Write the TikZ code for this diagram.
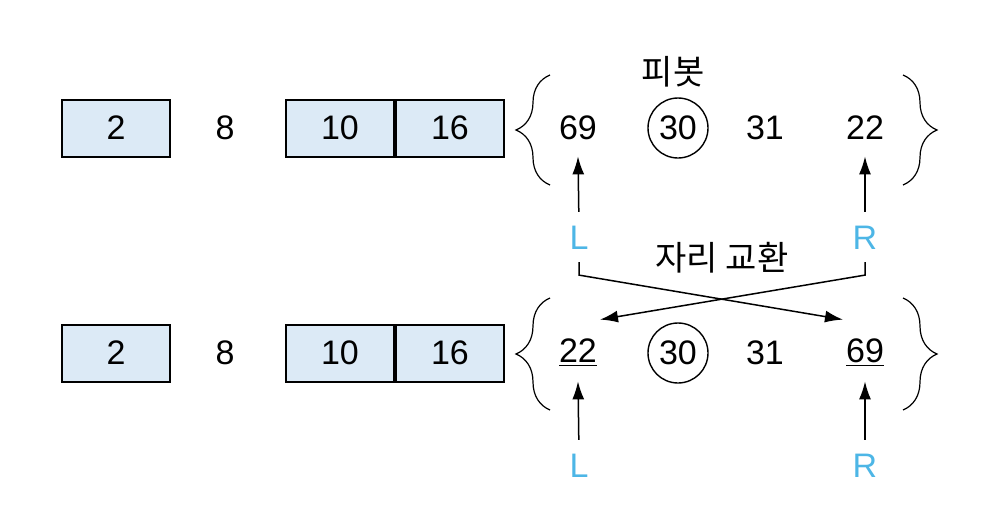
\documentclass[tikz,border=0pt]{standalone}
\usepackage{fontspec}
\setmainfont{Liberation Sans}
\newfontfamily\kr{Noto Sans CJK KR}
\usetikzlibrary{arrows.meta,positioning,decorations.pathreplacing}
\definecolor{cellblue}{HTML}{DCEAF6}
\definecolor{ptrblue}{HTML}{4DB6E6}
\tikzset{
  cell/.style={draw,line width=1pt,fill=cellblue,minimum width=54pt,minimum height=28.5pt,inner sep=0pt},
  val/.style={minimum height=28pt,inner sep=0pt},
  piv/.style={draw,circle,line width=.7pt,minimum size=30pt,inner sep=0pt},
  ptr/.style={text=ptrblue,inner sep=0pt},
  up/.style={-{Latex[length=9pt,width=6pt]},line width=.75pt,shorten <=7pt},
  swap/.style={-{Latex[length=9pt,width=6pt]},line width=.75pt,shorten <=6pt},
  curly/.style={decorate,decoration={brace,amplitude=17pt},line width=.6pt}
}
\begin{document}
\begin{tikzpicture}[x=.5pt,y=-.5pt,font=\fontsize{17}{20}\selectfont]
  \useasboundingbox (0,0) rectangle (981,521);
  % first row
  \node[cell] (a2) at (116,128) {2};
  \node (a8) at (225,128) {8};
  \node[cell] (a10) at (340,128) {10};
  \node[cell,right=0pt of a10] (a16) {16};
  \draw[curly] (550,185) -- (550,75);
  \draw[curly] (903,75) -- (903,185);
  \node[val] (t69) at (578,128) {69};
  \node[piv] (t30) at (678,128) {30};
  \node[val] (t31) at (765,128) {31};
  \node[val] (t22) at (865,128) {22};
  \node (tpiv) at (673,72) {\kr 피봇};
  \node[ptr] (tL) at (579,238) {L};
  \node[ptr] (tR) at (865,238) {R};
  \draw[up] (tL.north) -- (t69.south);
  \draw[up] (tR.north) -- (t22.south);
  % second row
  \node[cell] (b2) at (116,353) {2};
  \node (b8) at (225,353) {8};
  \node[cell] (b10) at (340,353) {10};
  \node[cell,right=0pt of b10] (b16) {16};
  \draw[curly] (550,410) -- (550,298);
  \draw[curly] (903,298) -- (903,410);
  \node[val] (b22) at (578,353) {\underline{22}};
  \node[piv] (b30) at (678,353) {30};
  \node[val] (b31) at (765,353) {31};
  \node[val] (b69) at (865,353) {\underline{69}};
  \node[ptr] (bL) at (579,466) {L};
  \node[ptr] (bR) at (865,466) {R};
  \draw[up] (bL.north) -- (b22.south);
  \draw[up] (bR.north) -- (b69.south);
  % swap
  \node (swp) at (722,258) {\kr 자리 교환};
  \draw[swap] (tL.south) -- ++(0,25) -- ([xshift=-11pt,yshift=2.5pt]b69.north);
  \draw[swap] (tR.south) -- ++(0,25) -- ([xshift=11pt,yshift=2.5pt]b22.north);
\end{tikzpicture}
\end{document}
